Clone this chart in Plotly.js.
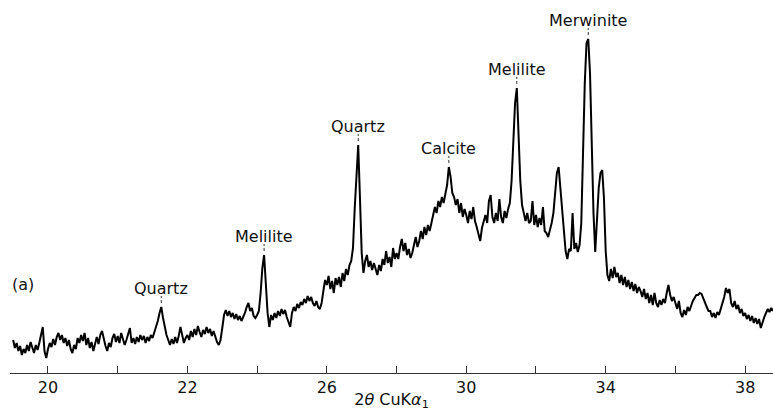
<!DOCTYPE html>
<html>
<head>
<meta charset="utf-8">
<script src="https://cdn.plot.ly/plotly-3.0.1.min.js"></script>
<style>
  html, body { margin: 0; padding: 0; background: #fff; }
  #chart { width: 773px; height: 411px; }
</style>
</head>
<body>
<div id="chart"></div>
<script>
// Powder diffraction scan, 2θ from 17.00° in 0.05° steps (counts, arbitrary units)
const scanStart = 17.0;
const scanStep = 0.05;
const intensity = [
  // 17.00 - 17.95
  33,25,30,22,27,18,24,20,28,22,31,26,20,28,23,30,38,46,22,15,
  // 18
  24,30,26,34,28,36,40,33,38,30,35,27,33,24,20,28,24,35,30,38,
  // 19
  32,40,28,35,25,31,22,30,36,29,38,42,33,27,22,30,26,35,39,31,
  // 20
  37,30,40,34,28,33,38,45,30,35,29,36,31,38,33,37,30,36,32,38,
  // 21
  35,40,45,52,60,66,55,46,38,33,28,34,29,36,30,37,46,38,30,35,
  // 22
  38,33,42,36,44,38,47,41,36,43,39,46,40,44,37,42,35,31,28,33,
  // 23
  45,58,63,57,62,56,60,54,59,53,57,52,56,60,66,70,62,65,57,55,
  // 24
  58,62,80,105,118,90,60,46,58,53,60,55,62,57,64,59,63,56,50,46,
  // 25
  60,66,62,69,65,71,68,74,70,77,72,76,70,67,72,66,64,70,82,93,
  // 26
  88,97,84,92,80,95,88,96,86,100,92,104,98,108,112,125,165,205,228,175,
  // 27
  120,100,112,118,106,112,103,110,104,98,108,102,114,108,122,110,116,106,125,114,
  // 28
  120,114,126,134,122,130,118,124,115,120,128,136,126,132,142,134,146,138,148,142,
  // 29
  150,158,166,160,172,166,176,170,180,188,206,196,180,176,168,174,160,170,156,164,
  // 30
  158,150,162,154,166,152,146,138,132,145,152,158,150,172,178,156,150,160,152,174,
  // 31
  156,150,162,155,164,170,192,238,270,285,238,192,168,160,152,160,150,152,172,148,
  // 32
  158,146,155,148,166,142,140,136,142,150,160,180,200,206,186,160,140,122,114,124,
  // 33
  122,160,124,130,121,128,150,222,290,330,334,300,230,160,121,160,185,200,203,175,
  // 34
  122,98,92,104,95,106,96,100,90,98,88,96,86,93,84,91,82,89,80,86,
  // 35
  82,76,84,74,80,70,78,68,80,70,66,73,68,74,70,80,88,78,72,76,
  // 36
  70,64,72,60,56,63,58,66,62,68,72,75,78,78,80,79,74,70,66,62,
  // 37
  62,56,60,55,61,58,64,68,76,85,80,84,70,66,72,64,68,60,64,57,
  // 38.00 - 38.80
  60,54,58,52,57,50,55,49,54,45,52,56,60,64,61,65,62
];

// Identified phases and the 2θ of the reflection each one marks
const phaseNames = ['Quartz', 'Melilite', 'Quartz', 'Calcite', 'Melilite', 'Merwinite'];
const phasePeaks = [21.25, 24.20, 26.90, 29.50, 31.45, 33.50];

// Labelled axis ticks as printed on the scan; unlabelled ticks fall in between
const tickPositions = [18, 22, 26, 30, 34, 38];
const tickLabels = ['20', '22', '26', '30', '34', '38'];

const FONT = 'DejaVu Sans, Arial, sans-serif';
const INK = '#111';

function countsAt(tt) {
  const i = Math.round((tt - scanStart) / scanStep);
  return intensity[Math.max(0, Math.min(intensity.length - 1, i))];
}

const trace = {
  type: 'scatter',
  mode: 'lines',
  x0: scanStart,
  dx: scanStep,
  y: intensity,
  line: { color: '#000', width: 2 },
  hoverinfo: 'skip'
};

const annotations = phaseNames.map((name, k) => ({
  x: phasePeaks[k],
  y: countsAt(phasePeaks[k]),
  xref: 'x', yref: 'y',
  text: name,
  showarrow: false,
  yshift: 19,
  yanchor: 'middle',
  xanchor: 'center',
  font: { family: FONT, size: 16, color: INK }
}));

annotations.push({
  x: 0.017, y: 0.24, xref: 'paper', yref: 'paper',
  text: '(a)', showarrow: false,
  xanchor: 'center', yanchor: 'middle',
  font: { family: FONT, size: 16, color: INK }
});

// short marker strokes above each labelled reflection
const shapes = phasePeaks.map(p => {
  const top = countsAt(p);
  return {
    type: 'line', xref: 'x', yref: 'y',
    x0: p, x1: p, y0: top + 4, y1: top + 11,
    line: { color: '#333', width: 1, dash: '3px,2px' }
  };
});

const layout = {
  width: 773,
  height: 411,
  margin: { l: 10, r: 0, t: 3, b: 38 },
  paper_bgcolor: '#fff',
  plot_bgcolor: '#fff',
  showlegend: false,
  xaxis: {
    range: [16.91, 38.80],
    showline: true,
    linecolor: '#333',
    linewidth: 1,
    ticks: 'inside',
    ticklen: 7,
    tickwidth: 1,
    tickcolor: '#333',
    tickmode: 'array',
    tickvals: tickPositions,
    ticktext: tickLabels,
    minor: { ticks: 'inside', ticklen: 7, tickwidth: 1, tickcolor: '#333', tick0: 18, dtick: 2, showgrid: false },
    tickfont: { family: FONT, size: 16, color: INK },
    showgrid: false,
    zeroline: false,
    automargin: false,
    title: {
      text: '2<i>θ</i> CuK<i>α</i><sub>1</sub>',
      font: { family: FONT, size: 16, color: INK },
      standoff: 2
    }
  },
  yaxis: {
    visible: false,
    range: [0, 370],
    showgrid: false,
    zeroline: false
  },
  annotations: annotations,
  shapes: shapes
};

Plotly.newPlot('chart', [trace], layout, { staticPlot: true, displayModeBar: false });
</script>
</body>
</html>
